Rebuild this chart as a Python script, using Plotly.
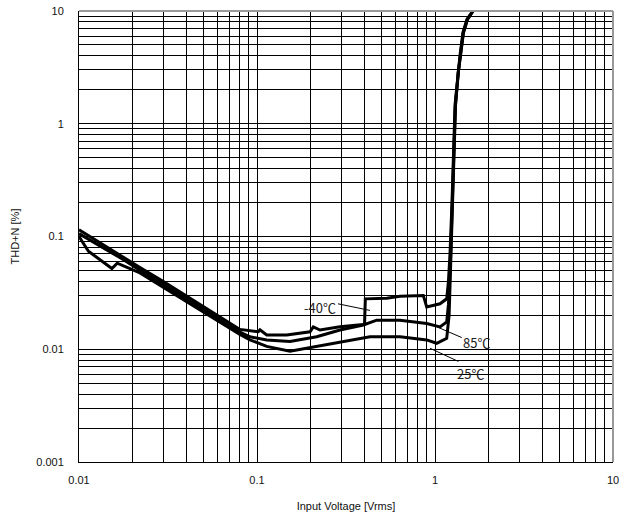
import math
import plotly.graph_objects as go

# ---- data ----
x_m40 = [0.01, 0.0131, 0.0177, 0.022, 0.0298, 0.042, 0.0479, 0.0595, 0.0802, 0.1017, 0.1039, 0.1134,
         0.1469, 0.1985, 0.2072, 0.2259, 0.2926, 0.3956, 0.402, 0.406, 0.45, 0.5355, 0.636, 0.8596,
         0.8983, 1.0668, 1.1635, 1.19, 1.214, 1.246, 1.296, 1.346, 1.382, 1.436, 1.513, 1.635, 1.70]
y_m40 = [0.115, 0.088, 0.066, 0.053, 0.0398, 0.0285, 0.0250, 0.0202, 0.0150, 0.0143, 0.0149, 0.0134,
         0.0134, 0.0143, 0.0158, 0.0148, 0.0158, 0.0166, 0.0168, 0.028, 0.0282, 0.0284, 0.0295, 0.0300,
         0.0237, 0.0253, 0.0280, 0.04, 0.07, 0.2, 1.47, 2.88, 4.04, 6.45, 8.46, 10.0, 11.0]

x_85 = [0.01, 0.0131, 0.0177, 0.022, 0.0298, 0.042, 0.0479, 0.0595, 0.0802, 0.0913, 0.1134, 0.1532,
        0.2165, 0.2926, 0.3956, 0.4705, 0.636, 0.8983, 1.0668, 1.1635, 1.19, 1.217, 1.25, 1.30,
        1.35, 1.386, 1.44, 1.518, 1.64, 1.70]
y_85 = [0.106, 0.083, 0.0625, 0.0503, 0.0376, 0.0268, 0.0236, 0.0190, 0.0142, 0.0129, 0.0121, 0.0117,
        0.0129, 0.0148, 0.0164, 0.0181, 0.0181, 0.0169, 0.0158, 0.0175, 0.025, 0.05, 0.2, 1.4,
        2.8, 4.0, 6.4, 8.4, 10.0, 11.0]

x_25 = [0.01, 0.0113, 0.0153, 0.0164, 0.022, 0.0298, 0.042, 0.0479, 0.0595, 0.0802, 0.0913, 0.1134,
        0.1532, 0.2165, 0.2926, 0.4314, 0.636, 0.8983, 1.0223, 1.1635, 1.20, 1.225, 1.255, 1.305,
        1.352, 1.39, 1.445, 1.522, 1.645, 1.70]
y_25 = [0.100, 0.074, 0.052, 0.058, 0.0475, 0.0353, 0.0253, 0.0221, 0.0179, 0.0135, 0.0121, 0.0106,
        0.0096, 0.0106, 0.0117, 0.0129, 0.0129, 0.0121, 0.0113, 0.0125, 0.02, 0.05, 0.2, 1.5,
        2.9, 4.0, 6.4, 8.4, 10.0, 11.0]

x_tickvals = [0.01, 0.1, 1, 10]
x_ticktext = ["0.01", "0.1", "1", "10"]
y_tickvals = [0.001, 0.01, 0.1, 1, 10]
y_ticktext = ["0.001", "0.01", "0.1", "1", "10"]

labels = ["-40℃", "85℃", "25℃"]
label_x = [0.226, 1.70, 1.575]
label_y = [0.0237, 0.01146, 0.00614]
leader_x = [[0.285, 0.431], [1.026, 1.413], [0.938, 1.352]]
leader_y = [[0.0253, 0.0221], [0.0158, 0.0127], [0.0102, 0.0078]]

x_title = "Input Voltage [Vrms]"
y_title = "THD+N [%]"

# ---- figure ----
fig = go.Figure()
for xs, ys in [(x_m40, y_m40), (x_85, y_85), (x_25, y_25)]:
    fig.add_trace(go.Scatter(x=xs, y=ys, mode="lines",
                             line=dict(color="black", width=3),
                             showlegend=False, hoverinfo="skip"))

for lx, ly in zip(leader_x, leader_y):
    fig.add_trace(go.Scatter(x=lx, y=ly, mode="lines",
                             line=dict(color="black", width=1),
                             showlegend=False, hoverinfo="skip"))

for t, xv, yv in zip(labels, label_x, label_y):
    fig.add_annotation(x=math.log10(xv), y=math.log10(yv), text=t, showarrow=False,
                       xref="x", yref="y",
                       font=dict(family="Noto Sans CJK JP", size=13, color="#222"))

fig.update_xaxes(type="log", range=[-2, 1], tickvals=x_tickvals, ticktext=x_ticktext,
                 showline=True, linecolor="black", linewidth=1, ticks="",
                 gridcolor="black", gridwidth=1, showgrid=True,
                 minor=dict(dtick="D1", showgrid=True, gridcolor="black", gridwidth=1),
                 ticklabelstandoff=8, ticklabeloverflow="allow", zeroline=False,
                 title=dict(text=x_title, standoff=17,
                            font=dict(family="Liberation Sans", size=11, color="#111")),
                 tickfont=dict(family="Liberation Sans", size=11, color="#111"))
fig.update_yaxes(type="log", range=[-3, 1], tickvals=y_tickvals, ticktext=y_ticktext,
                 showline=True, linecolor="black", linewidth=1, ticks="",
                 gridcolor="black", gridwidth=1, showgrid=True,
                 minor=dict(dtick="D1", showgrid=True, gridcolor="black", gridwidth=1),
                 ticklabelstandoff=12, ticklabeloverflow="allow", zeroline=False,
                 title=dict(text=y_title, standoff=14,
                            font=dict(family="Liberation Sans", size=11, color="#111")),
                 tickfont=dict(family="Liberation Sans", size=11, color="#111"))

# top / right frame in gray
fig.add_shape(type="line", xref="paper", yref="paper", x0=0, x1=1, y0=1, y1=1,
              line=dict(color="#999", width=2))
fig.add_shape(type="line", xref="paper", yref="paper", x0=1, x1=1, y0=0, y1=1,
              line=dict(color="#999", width=2))

fig.update_layout(width=634, height=523, margin=dict(l=79, r=21, t=5, b=61),
                  plot_bgcolor="white", paper_bgcolor="white")

fig.write_html("out.html")
